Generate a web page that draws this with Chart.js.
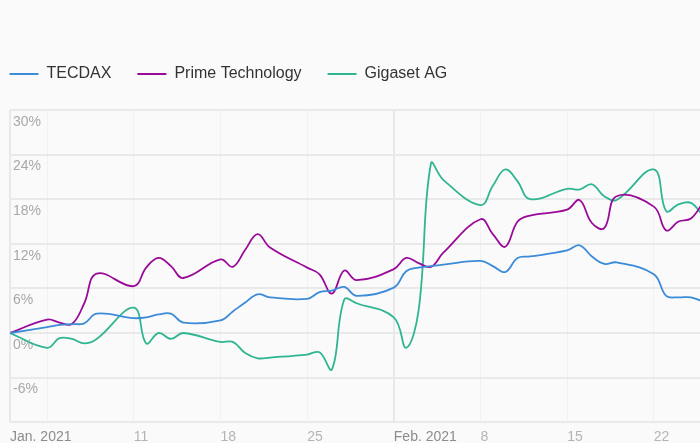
<!DOCTYPE html>
<html><head><meta charset="utf-8">
<script src="https://cdn.jsdelivr.net/npm/chart.js@4"></script>
<style>
html,body{margin:0;padding:0;background:#fafafa;overflow:hidden;}
#wrap{position:relative;width:700px;height:443px;overflow:hidden;background:#fafafa;}
canvas{display:block;}
</style></head><body>
<div id="wrap"><canvas id="c" width="720" height="453" style="width:720px;height:453px"></canvas></div>
<script>
const dates = [
 '2021-01-01',
 '2021-01-04','2021-01-05','2021-01-06','2021-01-07','2021-01-08',
 '2021-01-11','2021-01-12','2021-01-13','2021-01-14','2021-01-15',
 '2021-01-18','2021-01-19','2021-01-20','2021-01-21','2021-01-22',
 '2021-01-25','2021-01-26','2021-01-27','2021-01-28','2021-01-29',
 '2021-02-01','2021-02-02','2021-02-03','2021-02-04','2021-02-05',
 '2021-02-08','2021-02-09','2021-02-10','2021-02-11','2021-02-12',
 '2021-02-15','2021-02-16','2021-02-17','2021-02-18','2021-02-19',
 '2021-02-22','2021-02-23','2021-02-24','2021-02-25','2021-02-26'
];
const tecdax = [
 0,
 0.8, 1.1, 1.2, 1.3, 2.6,
 2.0, 2.1, 2.5, 2.6, 1.4,
 1.7, 2.9, 4.1, 5.2, 4.8,
 4.6, 5.5, 5.7, 6.2, 5.0,
 6.1, 8.3, 8.8, 9.0, 9.2,
 9.7, 9.0, 8.2, 10.1, 10.3,
 11.1, 11.8, 10.3, 9.3, 9.5,
 7.9, 5.0, 4.8, 4.8, 4.2
];
const prime = [
 0,
 1.8, 1.4, 1.2, 4.0, 8.0,
 6.3, 8.8, 10.1, 9.0, 7.4,
 9.9, 8.9, 11.2, 13.3, 11.5,
 8.8, 7.9, 5.3, 8.4, 7.1,
 8.6, 10.1, 9.4, 8.9, 10.8,
 15.3, 13.3, 11.6, 15.0, 15.8,
 16.6, 17.9, 14.8, 14.1, 18.4,
 17.0, 13.8, 15.0, 15.4, 17.6
];
const gigaset = [
 0,
 -2.0, -0.7, -0.8, -1.4, -0.8,
 3.4, -1.4, 0.0, -0.8, 0.0,
 -1.2, -1.2, -2.7, -3.4, -3.3,
 -2.9, -2.6, -4.9, 4.5, 4.0,
 2.1, -2.0, 3.0, 22.8, 20.6,
 17.2, 19.8, 22.0, 20.4, 18.0,
 19.4, 19.3, 20.0, 18.4, 17.9,
 22.0, 16.4, 17.3, 17.5, 15.7
];
const seriesNames = ['TECDAX', 'Prime Technology', 'Gigaset AG'];
const tickDates = ['2021-01-01','2021-01-04','2021-01-11','2021-01-18','2021-01-25','2021-02-01','2021-02-08','2021-02-15','2021-02-22'];
const tickLabels = ['Jan. 2021','','11','18','25','Feb. 2021','8','15','22'];
const monthTicks = ['2021-01-01','2021-02-01'];
const yTicks = [-12, -6, 0, 6, 12, 18, 24, 30];
const axisStart = '2021-01-01';
const axisEnd = '2021-02-27';

const dayOf = s => (Date.parse(s + 'T00:00:00Z') - Date.parse(axisStart + 'T00:00:00Z')) / 86400000;
const toPoints = arr => arr.map((v, i) => ({x: dayOf(dates[i]), y: v}));
const tickDays = tickDates.map(dayOf);
const monthDays = monthTicks.map(dayOf);

const colors = ['#3b8bd8', '#990a99', '#2fb592'];
const seriesData = [tecdax, prime, gigaset];

const FONT = 'Liberation Sans, Arial, Helvetica, sans-serif';

const legendPlace = {
  id: 'legendPlace',
  afterLayout(chart) {
    const lg = chart.legend;
    if (!lg) return;
    const dx = 9.5 - (lg.left + lg.options.labels.padding);
    const dy = -18;
    lg.left += dx; lg.right += dx;
    lg.top += dy; lg.bottom += dy;
  }
};

new Chart(document.getElementById('c'), {
  type: 'line',
  data: {
    datasets: seriesData.map((arr, k) => ({
      label: seriesNames[k],
      data: toPoints(arr),
      borderColor: colors[k],
      backgroundColor: colors[k],
      pointBorderColor: colors[k],
      pointBorderWidth: 2,
      borderWidth: 1.8,
      pointRadius: 0,
      pointHoverRadius: 0,
      fill: false,
      tension: 0.4
    }))
  },
  options: {
    responsive: false,
    animation: false,
    devicePixelRatio: 1,
    layout: { padding: { left: 4, right: 4.3, top: 58, bottom: 0 } },
    plugins: {
      legend: {
        position: 'top',
        align: 'start',
        labels: {
          usePointStyle: true,
          pointStyle: 'line',
          pointStyleWidth: 29,
          padding: 26,
          color: '#333333',
          font: { family: FONT, size: 16 }
        }
      },
      tooltip: { enabled: false }
    },
    scales: {
      x: {
        type: 'linear',
        min: 0,
        max: dayOf(axisEnd),
        afterBuildTicks: s => { s.ticks = tickDays.map(v => ({ value: v })); },
        ticks: {
          autoSkip: false,
          maxRotation: 0,
          align: 'start',
          padding: 7,
          font: { family: FONT, size: 14 },
          color: ctx => monthDays.includes(ctx.tick && ctx.tick.value) ? '#8c8c8c' : '#b4b4b4',
          callback: v => { const i = tickDays.indexOf(v); return i >= 0 ? tickLabels[i] : ''; }
        },
        grid: {
          drawTicks: false,
          color: ctx => (ctx.tick && monthDays.includes(ctx.tick.value)) ? '#e8e8e8' : '#f1f1f1',
          lineWidth: ctx => (ctx.tick && monthDays.includes(ctx.tick.value)) ? 2 : 1
        },
        border: { display: false }
      },
      y: {
        min: -12,
        max: 30,
        afterBuildTicks: s => { s.ticks = yTicks.map(v => ({ value: v })); },
        ticks: {
          mirror: true,
          padding: 3,
          labelOffset: 12,
          color: '#a8a8a8',
          font: { family: FONT, size: 14 },
          callback: v => v === yTicks[0] ? '' : v + '%'
        },
        grid: { drawTicks: false, color: '#e9e9e9', lineWidth: 2 },
        border: { display: false }
      }
    }
  },
  plugins: [legendPlace]
});
</script>
</body></html>
